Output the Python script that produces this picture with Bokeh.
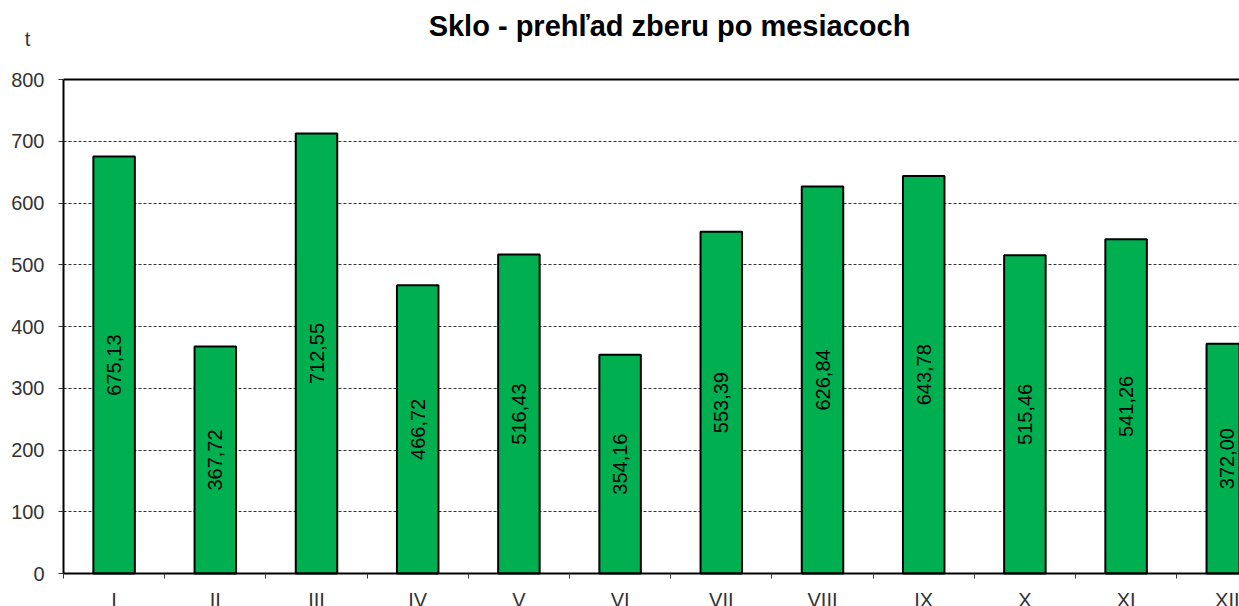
import math
from bokeh.plotting import figure
from bokeh.models import (Range1d, FixedTicker, ColumnDataSource, Label, Grid)
from bokeh.core.properties import value
from bokeh.embed import file_html
from bokeh.resources import INLINE

# ---- data ----
months = ["I", "II", "III", "IV", "V", "VI", "VII", "VIII", "IX", "X", "XI", "XII"]
tons = [675.13, 367.72, 712.55, 466.72, 516.43, 354.16, 553.39, 626.84, 643.78, 515.46, 541.26, 372.00]
y_ticks = [0, 100, 200, 300, 400, 500, 600, 700, 800]
title_text = "Sklo - prehľad zberu po mesiacoch"
unit_text = "t"

FONT = "Liberation Sans"
n = len(months)
centers = [i + 0.5 for i in range(n)]
bounds_x = list(range(n + 1))

src = ColumnDataSource(dict(
    x=centers,
    top=tons,
    mid=[v / 2 for v in tons],
    lbl=[f"{v:.2f}".replace(".", ",") for v in tons],
))

# ---- layout (pixels) ----
W, H = 1239, 606
frame_left, frame_top, frame_bottom = 63, 79, 573
cat_px = 101.2
ppu = (frame_bottom - frame_top) / 800.0

x_start = -frame_left / cat_px
x_end = (W - frame_left) / cat_px
y_start = -(H - frame_bottom) / ppu
y_end = 800 + frame_top / ppu

p = figure(width=W, height=H, output_backend="svg", toolbar_location=None,
           title_location=None,
           x_range=Range1d(x_start, x_end), y_range=Range1d(y_start, y_end),
           min_border=0, min_border_left=0, min_border_right=0,
           min_border_top=0, min_border_bottom=0,
           background_fill_color="white", border_fill_color="white",
           outline_line_color=None)

has_cross = "cross_bounds" in Grid.properties()

# grid lines
p.xgrid.visible = False
p.ygrid.ticker = FixedTicker(ticks=y_ticks[1:-1])
p.ygrid.grid_line_color = "#333333"
p.ygrid.grid_line_dash = "3 2"
p.ygrid.grid_line_width = 1
top_grid = Grid(dimension=1, ticker=FixedTicker(ticks=[800]),
                grid_line_color="black", grid_line_width=2)
p.add_layout(top_grid)
if has_cross:
    p.ygrid.cross_bounds = (0, x_end)
    top_grid.cross_bounds = (0, x_end)
else:
    # mask the grid lines left of the plot area
    p.quad(left=x_start, right=0, bottom=y_start, top=y_end,
           fill_color="white", line_color=None)

# bars
p.vbar(x="x", top="top", width=0.41, bottom=0, source=src,
       fill_color="#00B050", line_color="black", line_width=2)

p.text(x="x", y="mid", text="lbl", source=src, angle=math.pi / 2,
       text_align="center", text_baseline="middle",
       text_font=value(FONT), text_font_size="20px", text_color="black")

# y axis
ya = p.yaxis[0]
ya.fixed_location = 0
ya.bounds = (0, 800)
ya.ticker = FixedTicker(ticks=y_ticks)
ya.axis_line_color = "black"
ya.axis_line_width = 2
ya.major_tick_out = 5
ya.major_tick_in = 0
ya.minor_tick_line_color = None
ya.major_tick_line_color = "#333333"
ya.major_label_standoff = 14
ya.major_label_text_font = FONT
ya.major_label_text_font_size = "20px"
ya.major_label_text_color = "#333333"

# x axis: labels at centres, tick marks at category boundaries
xa = p.xaxis[0]
xa.fixed_location = 0
xa.bounds = (0, x_end)
xa.ticker = FixedTicker(ticks=centers, minor_ticks=bounds_x)
xa.major_label_overrides = {c: m for c, m in zip(centers, months)}
xa.axis_line_color = "black"
xa.axis_line_width = 2
xa.major_tick_line_color = None
xa.major_tick_out = 0
xa.major_tick_in = 0
xa.minor_tick_line_color = "#333333"
xa.minor_tick_out = 5
xa.minor_tick_in = 0
xa.major_label_standoff = 10
xa.major_label_text_font = FONT
xa.major_label_text_font_size = "20px"
xa.major_label_text_color = "#333333"

# title and unit
p.add_layout(Label(x=0, y=800, x_offset=606, y_offset=54, text=title_text,
                   text_align="center", text_baseline="middle",
                   text_font=FONT, text_font_size="29px", text_font_style="bold",
                   text_color="black"))
p.add_layout(Label(x=0, y=800, x_offset=-36, y_offset=41, text=unit_text,
                   text_align="center", text_baseline="middle",
                   text_font=FONT, text_font_size="20px", text_color="#333333"))

open("out.html", "w").write(file_html(p, INLINE))
